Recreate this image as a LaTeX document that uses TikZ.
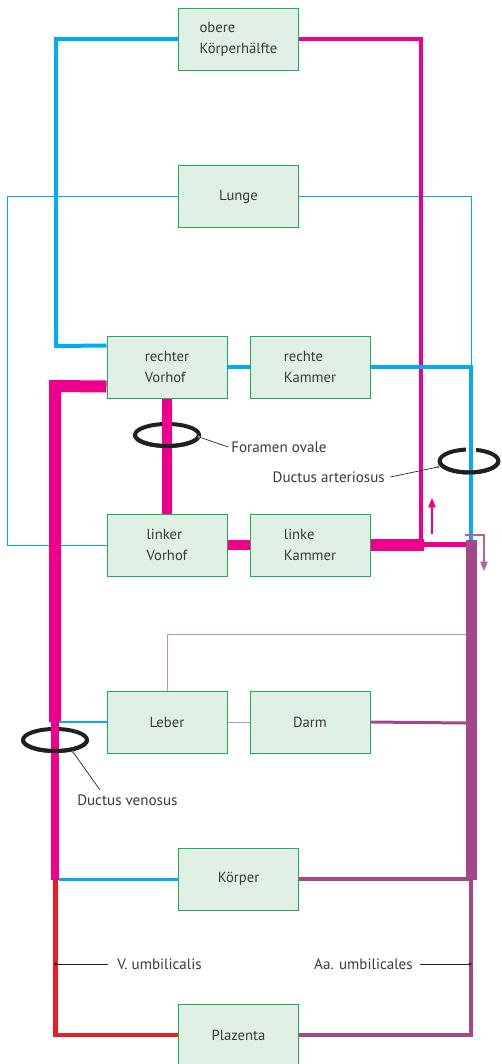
\documentclass[tikz,border=0pt]{standalone}
\usepackage{fontspec}
\setmainfont{PT Sans}
\usetikzlibrary{calc,arrows.meta}
\definecolor{cy}{HTML}{00AEEF}
\definecolor{mg}{HTML}{EC008C}
\definecolor{pu}{HTML}{A4478A}
\definecolor{lp}{HTML}{C98BBC}
\definecolor{rd}{HTML}{ED1C24}
\definecolor{ringc}{HTML}{231F20}
\definecolor{bx}{HTML}{E1F0E5}
\definecolor{bxd}{HTML}{1DAF55}
\definecolor{tx}{HTML}{3A3A3A}
\begin{document}
\begin{tikzpicture}[x=0.75pt,y=-0.75pt,
  organ/.style={draw=bxd, fill=bx, line width=0.75pt, minimum width=90pt, minimum height=46.5pt, inner sep=0pt, align=left, text=tx, font=\fontsize{11}{15.8}\selectfont},
  lbl/.style={text=tx, font=\fontsize{11.3}{13}\selectfont, inner sep=0pt},
  ring/.style={draw=ringc, line width=3pt},
  ptr/.style={draw=ringc, line width=0.5pt},
  dotend/.style={fill=ringc, circle, inner sep=0pt, minimum size=2.5pt},
  thin/.style={line width=0.75pt}
]
\useasboundingbox (0,0) rectangle (502,1064);

% organs
\node[organ] (ok) at (238.5,39) {obere\\Körperhälfte};
\node[organ] (lu) at (238.5,196.5) {Lunge};
\node[organ] (rv) at (167,367) {rechter\\Vorhof};
\node[organ] (rk) at (310,367) {rechte\\Kammer};
\node[organ] (lv) at (167,545) {linker\\Vorhof};
\node[organ] (lk) at (310,545) {linke\\Kammer};
\node[organ] (le) at (167,722) {Leber};
\node[organ] (da) at (310,722) {Darm};
\node[organ] (ko) at (238.5,879) {Körper};
\node[organ] (pl) at (238.5,1035) {Plazenta};

% thin vessels
\draw[cy, thin] (lu.west) -- (7,196.5) -- (7,545) -- (lv.west);
\draw[cy, thin] (lu.east) -- (471,196.5) -- (471,366);
\draw[lp, thin] (le.east) -- (da.west);
\draw[lp, thin] (le.north) -- (167,634) -- (466,634);

% rings, back part
\coordinate (fo) at (167,435);
\coordinate (dar) at (469,461);
\coordinate (dv) at (55,740);
\draw[ring] (fo) ellipse [x radius=24pt, y radius=8.25pt];
\draw[ring] (dar) ellipse [x radius=22pt, y radius=8.6pt];
\draw[ring] (dv) ellipse [x radius=24pt, y radius=8.25pt];
\draw[white, line width=7.5pt] (471,443) -- (471,453);

% vessels
\draw[cy, line width=3pt] (ok.west) -- (56,39) -- (56,346) -- ($(rv.north west)+(0,10)$);
\draw[mg, line width=3pt] (ok.east) -- (421,39) -- (421,545);
\draw[cy, line width=3pt] (rv.east) -- (rk.west);
\draw[cy, line width=3pt] (rk.east) -- (471,367) -- (471,541);
\draw[mg, line width=7.5pt] (rv.south) -- (lv.north);
\draw[mg, line width=7.5pt] (lv.east) -- (lk.west);
\draw[mg, line width=3.75pt] (421,544) -- (468,544);
\draw[mg, line width=9.5pt] (lk.east) -- (424,545);
\draw[pu, line width=8.25pt] (471,540) -- (471,880);
\draw[mg, line width=9pt] ($(rv.south west)+(0,-12)$) -- (55,386) -- (55,722);
\draw[mg, line width=6pt] (55,722) -- (55,880);
\draw[cy, line width=1.75pt] (59,722) -- (le.west);
\draw[pu, line width=2.25pt] (da.east) -- (466,723);
\draw[cy, line width=2.25pt] (ko.west) -- (59,879);
\draw[pu, line width=3pt] (ko.east) -- (471,879);
\draw[rd, line width=3.5pt] (55.5,880) -- (55.5,1035) -- (pl.west);
\draw[pu, line width=3pt] (pl.east) -- (471,1035) -- (471,880);

% rings, front part
\draw[ring] ([xshift=-24pt]fo) arc [start angle=180, end angle=360, x radius=24pt, y radius=8.25pt];
\draw[ring] ([xshift=-22pt]dar) arc [start angle=180, end angle=360, x radius=22pt, y radius=8.6pt];
\draw[ring] ([xshift=-24pt]dv) arc [start angle=180, end angle=360, x radius=24pt, y radius=8.25pt];

% flow arrows
\draw[mg, line width=1.1pt, -{Triangle[length=7pt,width=5.5pt]}] (432,534) -- (432,498);
\draw[pu!85, line width=0.9pt, -{Triangle[length=7pt,width=5.5pt]}] (465,535) -- (484,535) -- (484,571);

% labels
\node[lbl, anchor=west] (fol) at (231,447) {Foramen ovale};
\coordinate (fop) at (199,437);
\draw[ptr] (fop) -- ([xshift=-2pt]fol.west);
\node[dotend, fill=gray] at (fop) {};

\node[lbl, anchor=east] (dal) at (385,477) {Ductus arteriosus};
\coordinate (dap) at (438,467);
\draw[ptr] (dap) -- ([xshift=4pt]dal.east);
\node[dotend, fill=gray] at (dap) {};

\node[lbl, anchor=north west] (dvl) at (77,795) {Ductus venosus};
\coordinate (dvp) at (73,752);
\draw[ptr] (dvp) -- (100,790);
\node[dotend, fill=gray] at (dvp) {};

\node[lbl, anchor=west] (vul) at (117,964) {V. umbilicalis};
\coordinate (vup) at (56,964);
\draw[ptr] (vup) -- ([xshift=-7pt]vul.west);
\node[dotend] at (vup) {};

\node[lbl, anchor=east] (aul) at (413,964) {Aa. umbilicales};
\coordinate (aup) at (470,964);
\draw[ptr] (aup) -- ([xshift=5pt]aul.east);
\node[dotend] at (aup) {};
\end{tikzpicture}
\end{document}
